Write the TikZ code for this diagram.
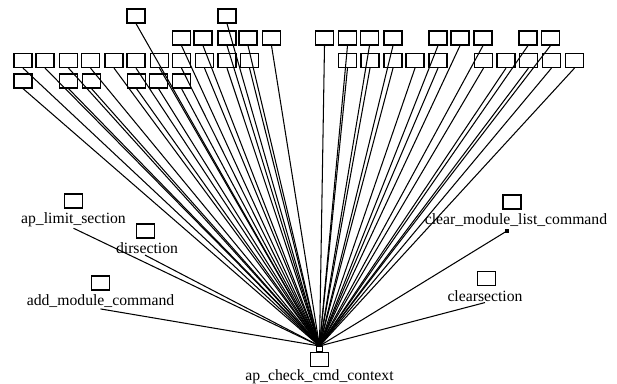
\documentclass[tikz,border=0pt]{standalone}
\usepackage{fontspec}
\setmainfont{Liberation Serif}
\usetikzlibrary{positioning}

\tikzset{
  stub/.style={draw,line width=1.2pt,minimum width=18pt,minimum height=14pt,inner sep=0pt},
  fname/.style={inner sep=1pt,font=\fontsize{15.7}{18}\selectfont},
  call/.style={line width=1.05pt}
}

\begin{document}
\begin{tikzpicture}[x=1pt,y=-1pt]
 \useasboundingbox (0,0) rectangle (617,383);
 % target function
 \node[stub] (ctx) at (319.5,359.5) {};
 \node[draw,line width=0.9pt,minimum width=6pt,minimum height=5pt,inner sep=0pt,above=0pt of ctx] (ctxtop) {};
 \node[fname,below=1pt of ctx] (ctxlbl) {ap\_check\_cmd\_context};
 \coordinate (hub) at (ctxtop.north);
 % unnamed callers, row by row
 \foreach \x [count=\i] in {136,227}
  {\node[stub] (a\i) at (\x,16) {}; \draw[call] (a\i.south) -- (hub);}
 \foreach \x [count=\i] in {181.5,203,227,248,271.5,324.5,347.5,369.5,393,438,460,483,528,550.5}
  {\node[stub] (b\i) at (\x,38) {}; \draw[call] (b\i.south) -- (hub);}
 \foreach \x [count=\i] in {23,45,68.5,90.5,114,136,159.5,181.5,204.5,227,249.5,347.5,370,393,415,438,483.5,506,528.5,551.5,574.5}
  {\node[stub] (c\i) at (\x,60.5) {}; \draw[call] (c\i.south) -- (hub);}
 \foreach \x [count=\i] in {23,68.5,91.5,136.5,158.5,181.5}
  {\node[stub] (d\i) at (\x,81) {}; \draw[call] (d\i.south) -- (hub);}
 % named callers
 \node[stub] (lim) at (73.5,201) {};
 \node[fname,below=3pt of lim] (limlbl) {ap\_limit\_section};
 \node[stub] (dir) at (145.5,231) {};
 \node[fname,below=3pt of dir,xshift=1.5pt] (dirlbl) {dirsection};
 \node[stub] (addm) at (100.5,283) {};
 \node[fname,below=3pt of addm] (addmlbl) {add\_module\_command};
 \node[stub] (clrm) at (512,202) {};
 \node[fname,below=3pt of clrm,xshift=4pt] (clrmlbl) {clear\_module\_list\_command};
 \node[fill,minimum size=4pt,inner sep=0pt] (clrmark) at ([xshift=-9pt,yshift=-3pt]clrmlbl.south) {};
 \node[stub] (clrs) at (486.5,278.5) {};
 \node[fname,below=3pt of clrs,xshift=-1.5pt] (clrslbl) {clearsection};
 \draw[call] (limlbl.south) -- (hub);
 \draw[call] ([xshift=-2pt]dirlbl.south) -- (hub);
 \draw[call] (addmlbl.south) -- (hub);
 \draw[call] (clrmark.center) -- (hub);
 \draw[call] (clrslbl.south) -- (hub);
\end{tikzpicture}
\end{document}
